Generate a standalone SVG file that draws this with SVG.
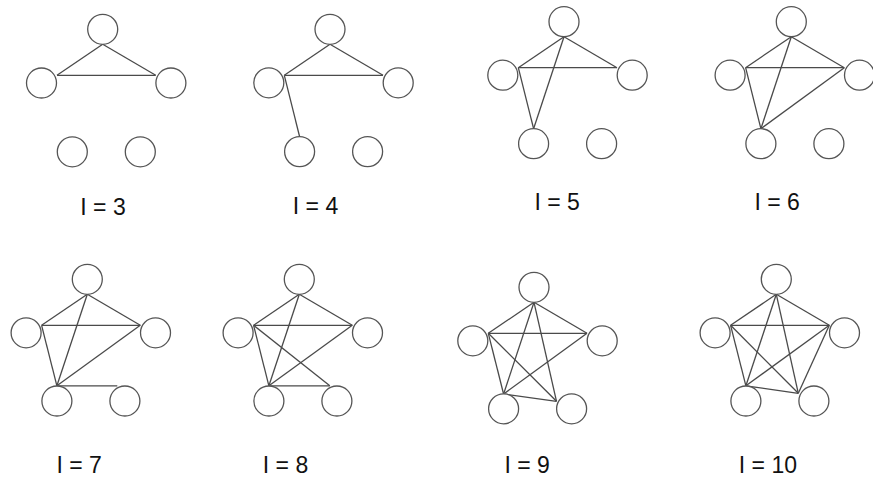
<svg xmlns="http://www.w3.org/2000/svg" width="873" height="484" viewBox="0 0 873 484">
<style>
.n{fill:#fff;stroke:#555;stroke-width:1.3}
.e line{stroke:#4a4a4a;stroke-width:1.3;fill:none}
.lb{font-family:"Liberation Sans",Arial,sans-serif;font-size:23px;fill:#111}
</style>
<rect width="873" height="484" fill="#fff"/>
<defs>
<circle id="c" r="15"/>
</defs>

<!-- Panel I=3 -->
<g id="panel3" transform="translate(102.7,29.3)">
<g class="e" id="p3-edges">
<line x1="0" y1="15" x2="-45.7" y2="46"/>
<line x1="0" y1="15" x2="53" y2="46"/>
<line x1="-45.7" y1="46" x2="53" y2="46"/>
</g>
<g id="p3-T"><circle class="n" cx="0" cy="0" r="15"/></g>
<g id="p3-L"><circle class="n" cx="-61.2" cy="53.7" r="15"/></g>
<g id="p3-R"><circle class="n" cx="68.2" cy="53.7" r="15"/></g>
<g id="p3-BL"><circle class="n" cx="-30.4" cy="122.5" r="15"/></g>
<g id="p3-BR"><circle class="n" cx="37.6" cy="122.5" r="15"/></g>
</g>
<text class="lb" x="80.3" y="215">I = 3</text>

<!-- Panel I=4 -->
<g id="panel4" transform="translate(330,29.3)">
<g class="e" id="p4-edges">
<line x1="0" y1="15" x2="-45.7" y2="46"/>
<line x1="0" y1="15" x2="53" y2="46"/>
<line x1="-45.7" y1="46" x2="53" y2="46"/>
<line x1="-45.7" y1="46" x2="-30.4" y2="107.3"/>
</g>
<g id="p4-T"><circle class="n" cx="0" cy="0" r="15"/></g>
<g id="p4-L"><circle class="n" cx="-61.2" cy="53.5" r="15"/></g>
<g id="p4-R"><circle class="n" cx="68.2" cy="53.5" r="15"/></g>
<g id="p4-BL"><circle class="n" cx="-30.4" cy="122.3" r="15"/></g>
<g id="p4-BR"><circle class="n" cx="37.6" cy="122.3" r="15"/></g>
</g>
<text class="lb" x="292.8" y="213.5">I = 4</text>

<!-- Panel I=5 -->
<g id="panel5" transform="translate(564,21.7)">
<g class="e" id="p5-edges">
<line x1="0" y1="15" x2="-45.7" y2="46"/>
<line x1="0" y1="15" x2="53" y2="46"/>
<line x1="-45.7" y1="46" x2="53" y2="46"/>
<line x1="-45.7" y1="46" x2="-30.4" y2="107"/>
<line x1="0" y1="15" x2="-30.4" y2="107"/>
</g>
<g id="p5-T"><circle class="n" cx="0" cy="0" r="15"/></g>
<g id="p5-L"><circle class="n" cx="-61.2" cy="53.5" r="15"/></g>
<g id="p5-R"><circle class="n" cx="68.2" cy="53.5" r="15"/></g>
<g id="p5-BL"><circle class="n" cx="-30.4" cy="122" r="15"/></g>
<g id="p5-BR"><circle class="n" cx="37.6" cy="122" r="15"/></g>
</g>
<text class="lb" x="534.5" y="209.5">I = 5</text>

<!-- Panel I=6 -->
<g id="panel6" transform="translate(791.3,21.7)">
<g class="e" id="p6-edges">
<line x1="0" y1="15" x2="-45.7" y2="46"/>
<line x1="0" y1="15" x2="53" y2="46"/>
<line x1="-45.7" y1="46" x2="53" y2="46"/>
<line x1="-45.7" y1="46" x2="-30.4" y2="107"/>
<line x1="0" y1="15" x2="-30.4" y2="107"/>
<line x1="53" y1="46" x2="-30.4" y2="107"/>
</g>
<g id="p6-T"><circle class="n" cx="0" cy="0" r="15"/></g>
<g id="p6-L"><circle class="n" cx="-61.2" cy="53.5" r="15"/></g>
<g id="p6-R"><circle class="n" cx="68.2" cy="53.5" r="15"/></g>
<g id="p6-BL"><circle class="n" cx="-30.4" cy="122" r="15"/></g>
<g id="p6-BR"><circle class="n" cx="37.6" cy="122" r="15"/></g>
</g>
<text class="lb" x="754.5" y="209.5">I = 6</text>

<!-- Panel I=7 -->
<g id="panel7" transform="translate(87.3,279.3)">
<g class="e" id="p7-edges">
<line x1="0" y1="15" x2="-45.7" y2="46"/>
<line x1="0" y1="15" x2="53" y2="46"/>
<line x1="-45.7" y1="46" x2="53" y2="46"/>
<line x1="-45.7" y1="46" x2="-30.4" y2="106.5"/>
<line x1="0" y1="15" x2="-30.4" y2="106.5"/>
<line x1="53" y1="46" x2="-30.4" y2="106.5"/>
<line x1="-30.4" y1="106.5" x2="30" y2="106.5"/>
</g>
<g id="p7-T"><circle class="n" cx="0" cy="0" r="15"/></g>
<g id="p7-L"><circle class="n" cx="-61.2" cy="53.5" r="15"/></g>
<g id="p7-R"><circle class="n" cx="68.2" cy="53.5" r="15"/></g>
<g id="p7-BL"><circle class="n" cx="-30.4" cy="121.7" r="15"/></g>
<g id="p7-BR"><circle class="n" cx="37.6" cy="121.7" r="15"/></g>
</g>
<text class="lb" x="56.5" y="473">I = 7</text>

<!-- Panel I=8 -->
<g id="panel8" transform="translate(299.3,279.3)">
<g class="e" id="p8-edges">
<line x1="0" y1="15" x2="-45.7" y2="46"/>
<line x1="0" y1="15" x2="53" y2="46"/>
<line x1="-45.7" y1="46" x2="53" y2="46"/>
<line x1="-45.7" y1="46" x2="-30.4" y2="106.5"/>
<line x1="0" y1="15" x2="-30.4" y2="106.5"/>
<line x1="53" y1="46" x2="-30.4" y2="106.5"/>
<line x1="-30.4" y1="106.5" x2="30.5" y2="106.5"/>
<line x1="-45.7" y1="46" x2="30.5" y2="106.5"/>
</g>
<g id="p8-T"><circle class="n" cx="0" cy="0" r="15"/></g>
<g id="p8-L"><circle class="n" cx="-61.2" cy="53.5" r="15"/></g>
<g id="p8-R"><circle class="n" cx="68.2" cy="53.5" r="15"/></g>
<g id="p8-BL"><circle class="n" cx="-30.4" cy="121.7" r="15"/></g>
<g id="p8-BR"><circle class="n" cx="37.6" cy="121.7" r="15"/></g>
</g>
<text class="lb" x="262.8" y="473">I = 8</text>

<!-- Panel I=9 -->
<g id="panel9" transform="translate(534,287.3)">
<g class="e" id="p9-edges">
<line x1="0" y1="15" x2="-45.7" y2="46"/>
<line x1="0" y1="15" x2="53" y2="46"/>
<line x1="-45.7" y1="46" x2="53" y2="46"/>
<line x1="-45.7" y1="46" x2="-30.4" y2="106.7"/>
<line x1="0" y1="15" x2="-30.4" y2="106.7"/>
<line x1="53" y1="46" x2="-30.4" y2="106.7"/>
<line x1="-45.7" y1="46" x2="22.5" y2="114"/>
<line x1="0" y1="15" x2="22.5" y2="114"/>
<line x1="-30.4" y1="106.7" x2="22.5" y2="114"/>
</g>
<g id="p9-T"><circle class="n" cx="0" cy="0" r="15"/></g>
<g id="p9-L"><circle class="n" cx="-61.2" cy="53.5" r="15"/></g>
<g id="p9-R"><circle class="n" cx="68.2" cy="53.5" r="15"/></g>
<g id="p9-BL"><circle class="n" cx="-30.4" cy="121.5" r="15"/></g>
<g id="p9-BR"><circle class="n" cx="37.6" cy="121.5" r="15"/></g>
</g>
<text class="lb" x="504.5" y="473">I = 9</text>

<!-- Panel I=10 -->
<g id="panel10" transform="translate(776.3,279.3)">
<g class="e" id="p10-edges">
<line x1="0" y1="15" x2="-45.7" y2="46"/>
<line x1="0" y1="15" x2="53" y2="46"/>
<line x1="-45.7" y1="46" x2="53" y2="46"/>
<line x1="-45.7" y1="46" x2="-30.4" y2="106.5"/>
<line x1="0" y1="15" x2="-30.4" y2="106.5"/>
<line x1="53" y1="46" x2="-30.4" y2="106.5"/>
<line x1="-45.7" y1="46" x2="22" y2="114"/>
<line x1="0" y1="15" x2="22" y2="114"/>
<line x1="-30.4" y1="106.5" x2="22" y2="114"/>
<line x1="53" y1="46" x2="22" y2="114"/>
</g>
<g id="p10-T"><circle class="n" cx="0" cy="0" r="15"/></g>
<g id="p10-L"><circle class="n" cx="-61.2" cy="53.5" r="15"/></g>
<g id="p10-R"><circle class="n" cx="68.2" cy="53.5" r="15"/></g>
<g id="p10-BL"><circle class="n" cx="-30.4" cy="121.7" r="15"/></g>
<g id="p10-BR"><circle class="n" cx="37.6" cy="121.7" r="15"/></g>
</g>
<text class="lb" x="738.8" y="473">I = 10</text>
</svg>
